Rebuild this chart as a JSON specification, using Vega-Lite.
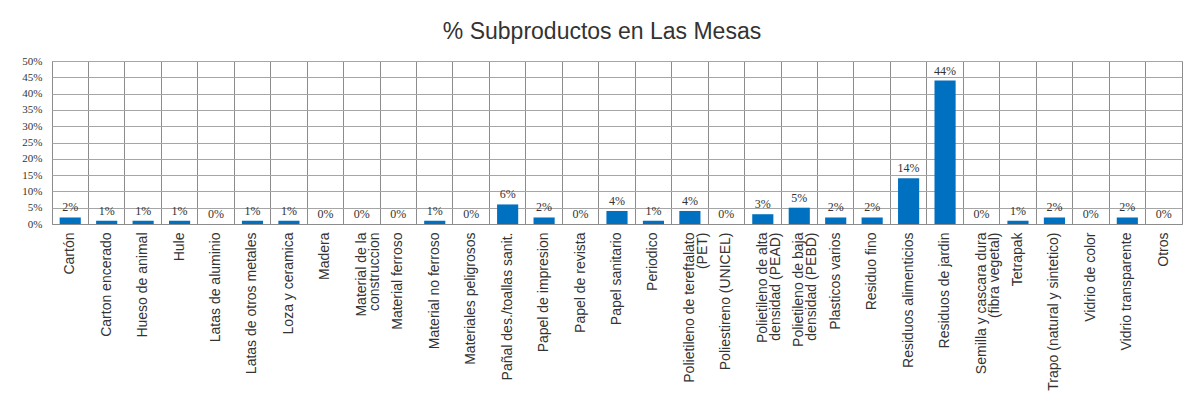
{
  "$schema": "https://vega.github.io/schema/vega-lite/v6.json",
  "autosize": {"type": "none"},
  "padding": {"left": 52, "top": 61, "right": 7, "bottom": 174},
  "width": 1130,
  "height": 163,
  "background": "white",
  "title": {
    "text": "% Subproductos en Las Mesas",
    "font": "Liberation Sans",
    "fontSize": 23,
    "fontWeight": "normal",
    "color": "#333333",
    "anchor": "middle",
    "baseline": "alphabetic",
    "offset": -7,
    "dx": -15
  },
  "data": {
    "values": [
      {"cat": "Cartón", "v": 2, "lab": "2%"},
      {"cat": "Carton encerado", "v": 1, "lab": "1%"},
      {"cat": "Hueso de animal", "v": 1, "lab": "1%"},
      {"cat": "Hule", "v": 1, "lab": "1%"},
      {"cat": "Latas de aluminio", "v": 0, "lab": "0%"},
      {"cat": "Latas de otros metales", "v": 1, "lab": "1%"},
      {"cat": "Loza y ceramica", "v": 1, "lab": "1%"},
      {"cat": "Madera", "v": 0, "lab": "0%"},
      {"cat": "Material de la|construccion", "v": 0, "lab": "0%"},
      {"cat": "Material ferroso", "v": 0, "lab": "0%"},
      {"cat": "Material no ferroso", "v": 1, "lab": "1%"},
      {"cat": "Materiales peligrosos", "v": 0, "lab": "0%"},
      {"cat": "Pañal des./toallas sanit.", "v": 6, "lab": "6%"},
      {"cat": "Papel de impresion", "v": 2, "lab": "2%"},
      {"cat": "Papel de revista", "v": 0, "lab": "0%"},
      {"cat": "Papel sanitario", "v": 4, "lab": "4%"},
      {"cat": "Periodico", "v": 1, "lab": "1%"},
      {"cat": "Polietileno de tereftalato|(PET)", "v": 4, "lab": "4%"},
      {"cat": "Poliestireno (UNICEL)", "v": 0, "lab": "0%"},
      {"cat": "Polietileno de alta|densidad (PEAD)", "v": 3, "lab": "3%"},
      {"cat": "Polietileno de baja|densidad (PEBD)", "v": 5, "lab": "5%"},
      {"cat": "Plasticos varios", "v": 2, "lab": "2%"},
      {"cat": "Residuo fino", "v": 2, "lab": "2%"},
      {"cat": "Residuos alimenticios", "v": 14, "lab": "14%"},
      {"cat": "Residuos de jardin", "v": 44, "lab": "44%"},
      {"cat": "Semilla y cascara dura|(fibra vegetal)", "v": 0, "lab": "0%"},
      {"cat": "Tetrapak", "v": 1, "lab": "1%"},
      {"cat": "Trapo (natural y sintetico)", "v": 2, "lab": "2%"},
      {"cat": "Vidrio de color", "v": 0, "lab": "0%"},
      {"cat": "Vidrio transparente", "v": 2, "lab": "2%"},
      {"cat": "Otros", "v": 0, "lab": "0%"}
    ]
  },
  "encoding": {
    "x": {
      "field": "cat",
      "type": "nominal",
      "sort": null,
      "scale": {"paddingInner": 0, "paddingOuter": 0},
      "axis": {
        "title": null,
        "labelAngle": -90,
        "labelExpr": "split(datum.label, '|')",
        "labelFont": "Liberation Sans",
        "labelFontSize": 14,
        "labelColor": "#333333",
        "labelLineHeight": 13,
        "labelPadding": 8,
        "labelLimit": 200,
        "ticks": false,
        "grid": true,
        "bandPosition": 0,
        "gridColor": "#8c8c8c",
        "gridWidth": 1,
        "domainColor": "#8c8c8c"
      }
    },
    "y": {
      "field": "v",
      "type": "quantitative",
      "scale": {"domain": [0, 50], "nice": false},
      "axis": {
        "title": null,
        "values": [0, 5, 10, 15, 20, 25, 30, 35, 40, 45, 50],
        "labelExpr": "datum.value + '%'",
        "labelFont": "Liberation Serif",
        "labelFontSize": 11,
        "labelColor": "#333333",
        "labelPadding": 10,
        "ticks": false,
        "domain": false,
        "gridColor": "#a6a6a6",
        "gridWidth": 1
      }
    }
  },
  "layer": [
    {
      "mark": {"type": "bar", "color": "#0070C0", "width": {"band": 0.58}}
    },
    {
      "mark": {
        "type": "text",
        "baseline": "bottom",
        "dy": -3,
        "font": "Liberation Serif",
        "fontSize": 12,
        "color": "#333333"
      },
      "encoding": {
        "text": {"field": "lab", "type": "nominal"}
      }
    }
  ],
  "config": {
    "view": {"stroke": "#8c8c8c", "strokeWidth": 1}
  }
}
